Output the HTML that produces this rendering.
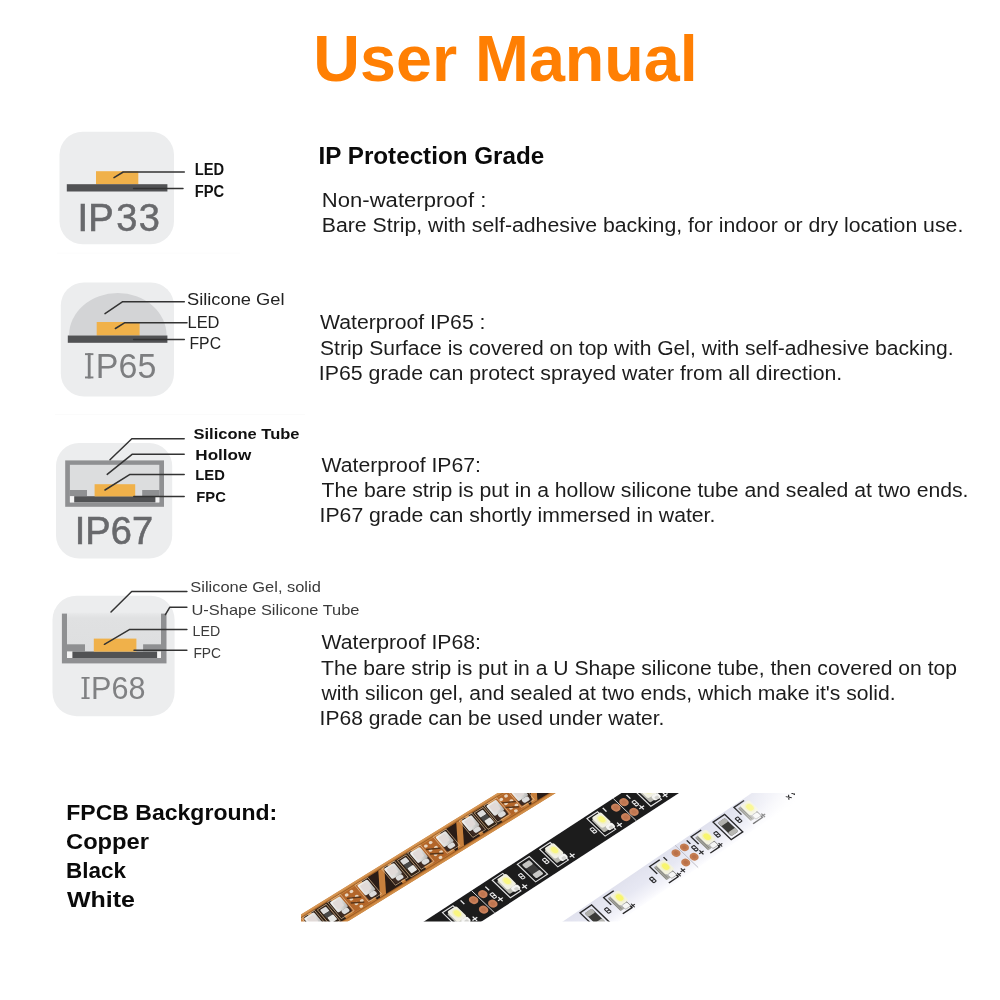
<!DOCTYPE html>
<html>
<head>
<meta charset="utf-8">
<title>User Manual</title>
<style>
html,body{margin:0;padding:0;background:#fff;}
body{width:1000px;height:1000px;overflow:hidden;font-family:"Liberation Sans",sans-serif;}
svg{display:block;position:absolute;left:0;top:0;will-change:transform;}
text{font-family:"Liberation Sans",sans-serif;}
.t{fill:#ff7f03;font-weight:bold;font-size:62px;}
.h{fill:#0a0a0a;font-weight:bold;font-size:23px;}
.b{fill:#1c1c1c;font-size:19.6px;}
.f{fill:#0a0a0a;font-weight:bold;font-size:22px;}
.lb{fill:#111;font-weight:bold;font-size:14.5px;}
.lr{fill:#222;font-size:16px;}
.ld{stroke:#333;stroke-width:1.5;fill:none;stroke-linejoin:round;stroke-linecap:round;}
</style>
</head>
<body>
<svg width="1000" height="1000" viewBox="0 0 1000 1000">

<!-- ===== Title ===== -->
<text class="t" x="313.3" y="81" style="font-size:65px" textLength="384.5" lengthAdjust="spacingAndGlyphs">User Manual</text>

<!-- ===== Right column text ===== -->
<text class="h" x="318.6" y="164" textLength="225.6" lengthAdjust="spacingAndGlyphs">IP Protection Grade</text>

<text class="b" x="321.8" y="207.4" textLength="164.5" lengthAdjust="spacingAndGlyphs">Non-waterproof :</text>
<text class="b" x="321.8" y="232.2" textLength="641.5" lengthAdjust="spacingAndGlyphs">Bare Strip, with self-adhesive backing, for indoor or dry location use.</text>

<text class="b" x="320" y="329.0" textLength="165.5" lengthAdjust="spacingAndGlyphs">Waterproof IP65 :</text>
<text class="b" x="320" y="354.7" textLength="633.5" lengthAdjust="spacingAndGlyphs">Strip Surface is covered on top with Gel, with self-adhesive backing.</text>
<text class="b" x="318.8" y="379.7" textLength="523.5" lengthAdjust="spacingAndGlyphs">IP65 grade can protect sprayed water from all direction.</text>

<text class="b" x="321.5" y="472.1" textLength="159.5" lengthAdjust="spacingAndGlyphs">Waterproof IP67:</text>
<text class="b" x="321.5" y="497.2" textLength="647" lengthAdjust="spacingAndGlyphs">The bare strip is put in a hollow silicone tube and sealed at two ends.</text>
<text class="b" x="319.6" y="522.4" textLength="395.8" lengthAdjust="spacingAndGlyphs">IP67 grade can shortly immersed in water.</text>

<text class="b" x="321.5" y="648.9" textLength="159.5" lengthAdjust="spacingAndGlyphs">Waterproof IP68:</text>
<text class="b" x="321" y="674.7" textLength="636" lengthAdjust="spacingAndGlyphs">The bare strip is put in a U Shape silicone tube, then covered on top</text>
<text class="b" x="321.5" y="699.7" textLength="574" lengthAdjust="spacingAndGlyphs">with silicon gel, and sealed at two ends, which make it's solid.</text>
<text class="b" x="319.6" y="724.7" textLength="344.8" lengthAdjust="spacingAndGlyphs">IP68 grade can be used under water.</text>

<!-- ===== Bottom-left text ===== -->
<text class="f" x="66.3" y="819.5" textLength="211" lengthAdjust="spacingAndGlyphs">FPCB Background:</text>
<text class="f" x="66" y="849" textLength="83" lengthAdjust="spacingAndGlyphs">Copper</text>
<text class="f" x="66" y="877.5" textLength="60" lengthAdjust="spacingAndGlyphs">Black</text>
<text class="f" x="67" y="906.6" textLength="68" lengthAdjust="spacingAndGlyphs">White</text>

<!-- faint scan artefact lines present in the reference -->
<rect x="57" y="252.6" width="183" height="1" fill="#fcfcfc"/>
<rect x="55" y="414" width="250" height="1" fill="#fbfbfb"/>

<!-- ===== Icon 1 : IP33 ===== -->
<g id="ip33">
<rect x="59.5" y="131.7" width="114.5" height="112.6" rx="23" ry="23" fill="#ecedee"/>
<rect x="96" y="171.2" width="42.3" height="13.2" fill="#f0b14a"/>
<rect x="66.8" y="184.2" width="100.6" height="7.3" fill="#515254"/>
<polyline class="ld" points="114,177.7 123.2,172 184.3,172"/>
<polyline class="ld" points="133.6,188.4 183,188.4"/>
<text class="lb" x="194.8" y="174.8" style="font-size:15.6px" textLength="29.4" lengthAdjust="spacingAndGlyphs">LED</text>
<text class="lb" x="194.8" y="197.4" style="font-size:15.6px" textLength="29.4" lengthAdjust="spacingAndGlyphs">FPC</text>
<text x="77.6" y="231.2" style="font-size:38px" fill="#68696c" stroke="#68696c" stroke-width="0.7">IP</text>
<text x="116.3" y="231.2" style="font-size:38px" fill="#68696c" stroke="#68696c" stroke-width="0.5" letter-spacing="1.4">33</text>
</g>

<!-- ===== Icon 2 : IP65 ===== -->
<g id="ip65">
<rect x="60.8" y="282.5" width="113.2" height="114.1" rx="23" ry="23" fill="#ecedee"/>
<path d="M69,335.5 A48.8,42.5 0 0 1 166.6,335.5 Z" fill="#d3d4d6"/>
<rect x="96.7" y="322" width="42.9" height="13.6" fill="#f0b14a"/>
<rect x="67.8" y="335.5" width="99.6" height="7.3" fill="#515254"/>
<polyline class="ld" points="105,313.7 122.7,301.7 184.3,301.7"/>
<polyline class="ld" points="115.4,328.5 124.5,322.8 187,322.8"/>
<polyline class="ld" points="133.6,339.4 184.3,339.4"/>
<text class="lr" x="187" y="304.6" style="font-size:17px" textLength="97.5" lengthAdjust="spacingAndGlyphs">Silicone Gel</text>
<text class="lr" x="187.5" y="327.7" style="font-size:17px" textLength="32" lengthAdjust="spacingAndGlyphs">LED</text>
<text class="lr" x="189.5" y="349.3" style="font-size:17px" textLength="31.5" lengthAdjust="spacingAndGlyphs">FPC</text>
<g fill="#7d7e80"><rect x="87.8" y="353.2" width="2.8" height="25.2"/><rect x="85" y="353.2" width="8.4" height="1.9"/><rect x="85" y="376.5" width="8.4" height="1.9"/>
<text x="95.8" y="378.4" style="font-size:35.3px" textLength="60.5" lengthAdjust="spacingAndGlyphs">P65</text></g>
</g>

<!-- ===== Icon 3 : IP67 ===== -->
<g id="ip67">
<rect x="56" y="443" width="116.2" height="115.4" rx="23" ry="23" fill="#ecedee"/>
<rect x="65.2" y="460.4" width="98.8" height="46.4" fill="#8f9092"/>
<rect x="69.9" y="464.8" width="89.4" height="37.6" fill="#dcddde"/>
<rect x="69.9" y="490" width="17.1" height="6.4" fill="#8f9092"/>
<rect x="142.2" y="490" width="17.1" height="6.4" fill="#8f9092"/>
<rect x="69.9" y="496.2" width="89.4" height="6.2" fill="#f4f4f4"/>
<rect x="74.2" y="496.2" width="81.2" height="6.2" fill="#515254"/>
<rect x="94.6" y="484.2" width="40.6" height="12.2" fill="#f0b14a"/>
<polyline class="ld" points="110,459.8 131.8,438.8 184.2,438.8"/>
<polyline class="ld" points="107.2,474.4 132.4,454.2 184.2,454.2"/>
<polyline class="ld" points="105,490 129.6,474.6 184.2,474.6"/>
<polyline class="ld" points="133.8,496.4 184.2,496.4"/>
<text class="lb" x="193.5" y="438.8" style="font-size:15px" textLength="106" lengthAdjust="spacingAndGlyphs">Silicone Tube</text>
<text class="lb" x="195.3" y="460" style="font-size:15px" textLength="56" lengthAdjust="spacingAndGlyphs">Hollow</text>
<text class="lb" x="195.3" y="479.6" style="font-size:15px" textLength="29.5" lengthAdjust="spacingAndGlyphs">LED</text>
<text class="lb" x="196.3" y="502.4" style="font-size:15px" textLength="29.5" lengthAdjust="spacingAndGlyphs">FPC</text>
<text x="74.7" y="544.4" style="font-size:38px" fill="#68696c" stroke="#68696c" stroke-width="0.6" textLength="78.4" lengthAdjust="spacing">IP67</text>
</g>

<!-- ===== Icon 4 : IP68 ===== -->
<g id="ip68">
<rect x="52.5" y="595.7" width="122.1" height="120.5" rx="24" ry="24" fill="#ecedee"/>
<defs><linearGradient id="gel" x1="0" y1="0" x2="0" y2="1"><stop offset="0" stop-color="#e9eaeb"/><stop offset="0.12" stop-color="#e0e1e2"/><stop offset="1" stop-color="#dddedf"/></linearGradient></defs>
<rect x="61.9" y="613.6" width="104.6" height="49.8" fill="#8f9092"/>
<rect x="67" y="612.6" width="94" height="45.4" fill="url(#gel)"/>
<rect x="67" y="644.3" width="18" height="7.4" fill="#8f9092"/>
<rect x="143.1" y="644.3" width="17.9" height="7.4" fill="#8f9092"/>
<rect x="67" y="651.5" width="94" height="6.5" fill="#f4f4f4"/>
<rect x="72.4" y="651.5" width="84.7" height="6.5" fill="#515254"/>
<rect x="93.8" y="638.6" width="42.6" height="13" fill="#f0b14a"/>
<polyline class="ld" points="111,612 131.7,591.5 186.9,591.5"/>
<polyline class="ld" points="165.4,614.6 169.7,607.3 186.9,607.3"/>
<polyline class="ld" points="104.4,644.3 129.8,629.4 186.9,629.4"/>
<polyline class="ld" points="134,650.2 186.9,650.2"/>
<text class="lr" x="190.3" y="592.4" style="font-size:15px;fill:#3a3a3a" textLength="130.5" lengthAdjust="spacingAndGlyphs">Silicone Gel, solid</text>
<text class="lr" x="191.5" y="614.6" style="font-size:15px;fill:#3a3a3a" textLength="168" lengthAdjust="spacingAndGlyphs">U-Shape Silicone Tube</text>
<text class="lr" x="192.6" y="636" style="font-size:15px;fill:#3a3a3a" textLength="27.6" lengthAdjust="spacingAndGlyphs">LED</text>
<text class="lr" x="193.4" y="657.5" style="font-size:15px;fill:#3a3a3a" textLength="27.6" lengthAdjust="spacingAndGlyphs">FPC</text>
<g fill="#808183"><rect x="84.1" y="677" width="2.6" height="22"/><rect x="81.5" y="677" width="8.1" height="1.7"/><rect x="81.5" y="697.3" width="8.1" height="1.7"/>
<text x="91.1" y="699" style="font-size:30.8px" textLength="54.3" lengthAdjust="spacingAndGlyphs">P68</text></g>
</g>

<!-- ===== LED strips ===== -->
<g id="strips">
<defs>
<clipPath id="photo"><rect x="301" y="793" width="494" height="128.6"/></clipPath>
<filter id="soft" x="-5%" y="-5%" width="110%" height="110%"><feGaussianBlur stdDeviation="0.6"/></filter>
<linearGradient id="cu" x1="0" y1="0" x2="0" y2="1"><stop offset="0" stop-color="#cf8a42"/><stop offset="0.5" stop-color="#be7430"/><stop offset="1" stop-color="#c98038"/></linearGradient>
<linearGradient id="wh" x1="0" y1="0" x2="0" y2="1"><stop offset="0" stop-color="#e1e2ee"/><stop offset="0.45" stop-color="#e7e8f3"/><stop offset="0.8" stop-color="#f4f4fa"/><stop offset="1" stop-color="#fdfdff"/></linearGradient>
<linearGradient id="ledw" x1="0" y1="0" x2="1" y2="1"><stop offset="0" stop-color="#f4f4f2"/><stop offset="0.6" stop-color="#dededc"/><stop offset="1" stop-color="#b1b1af"/></linearGradient>
<radialGradient id="ledy" cx="0.5" cy="0.45" r="0.6"><stop offset="0" stop-color="#fbf88e"/><stop offset="0.55" stop-color="#f5f3b0"/><stop offset="1" stop-color="#efeee0"/></radialGradient>
<linearGradient id="fade" x1="0" y1="0" x2="1" y2="0.35"><stop offset="0" stop-color="#fff" stop-opacity="0"/><stop offset="0.75" stop-color="#fff" stop-opacity="0.9"/><stop offset="1" stop-color="#fff" stop-opacity="1"/></linearGradient>
</defs>
<g clip-path="url(#photo)"><g filter="url(#soft)">
<g transform="matrix(0.8508 -0.5255 0.6428 0.7660 301 914.5)">
<rect x="-40" y="0" width="350" height="30.8" fill="url(#cu)"/>
<rect x="-40" y="0" width="350" height="1.5" fill="#d59656"/>
<rect x="-40" y="29.1" width="350" height="1.7" fill="#d08e4a"/>
<rect x="-40" y="2.4" width="350" height="1" fill="#8a4f1e" opacity="0.7"/>
<rect x="-40" y="27.2" width="350" height="1" fill="#8a4f1e" opacity="0.7"/>
<rect x="-25.7" y="3.4" width="30.7" height="24.0" fill="#2a1b13"/>
<path d="M-21.9,27.4 L-5.8,3.4 L1.2,3.4 L-14.8,27.4 Z" fill="#c8803c"/>
<rect x="9.0" y="3.4" width="23.4" height="24.0" fill="#2f2118"/>
<rect x="15.7" y="4.6" width="10.5" height="21.5" fill="none" stroke="#d8b48a" stroke-width="0.7"/>
<rect x="17.5" y="6.2" width="7" height="6" rx="1" fill="#dcdcdc"/>
<rect x="17.5" y="12" width="7" height="5" fill="#4a4a48"/>
<rect x="18.1" y="16.8" width="7" height="6.6" rx="1" fill="#e6e6e4"/>
<rect x="41.4" y="4.2" width="21.2" height="22.4" fill="#b3662a"/>
<ellipse cx="48.0" cy="7.5" rx="1.9" ry="1.6" fill="#e8d6c0"/>
<ellipse cx="54.0" cy="7" rx="1.9" ry="1.6" fill="#e8d6c0"/>
<ellipse cx="49.0" cy="13.5" rx="1.9" ry="1.6" fill="#e8d6c0"/>
<ellipse cx="55.0" cy="14" rx="1.9" ry="1.6" fill="#e8d6c0"/>
<ellipse cx="50.0" cy="20" rx="1.9" ry="1.6" fill="#e8d6c0"/>
<ellipse cx="56.0" cy="20.5" rx="1.9" ry="1.6" fill="#e8d6c0"/>
<ellipse cx="52.0" cy="25" rx="1.9" ry="1.6" fill="#e8d6c0"/>
<path d="M46.0,10.5 L58.0,17 M46.0,16.5 L57.0,23" stroke="#5a3418" stroke-width="1.5" fill="none"/>
<rect x="68.6" y="3.4" width="30.4" height="24.0" fill="#2a1b13"/>
<path d="M72.3,27.4 L88.3,3.4 L95.3,3.4 L79.3,27.4 Z" fill="#c8803c"/>
<rect x="103.0" y="3.4" width="23.4" height="24.0" fill="#2f2118"/>
<rect x="109.7" y="4.6" width="10.5" height="21.5" fill="none" stroke="#d8b48a" stroke-width="0.7"/>
<rect x="111.5" y="6.2" width="7" height="6" rx="1" fill="#dcdcdc"/>
<rect x="111.5" y="12" width="7" height="5" fill="#4a4a48"/>
<rect x="112.1" y="16.8" width="7" height="6.6" rx="1" fill="#e6e6e4"/>
<rect x="135.4" y="4.2" width="19.3" height="22.4" fill="#b3662a"/>
<ellipse cx="141.1" cy="7.5" rx="1.9" ry="1.6" fill="#e8d6c0"/>
<ellipse cx="147.1" cy="7" rx="1.9" ry="1.6" fill="#e8d6c0"/>
<ellipse cx="142.1" cy="13.5" rx="1.9" ry="1.6" fill="#e8d6c0"/>
<ellipse cx="148.1" cy="14" rx="1.9" ry="1.6" fill="#e8d6c0"/>
<ellipse cx="143.1" cy="20" rx="1.9" ry="1.6" fill="#e8d6c0"/>
<ellipse cx="149.1" cy="20.5" rx="1.9" ry="1.6" fill="#e8d6c0"/>
<ellipse cx="145.1" cy="25" rx="1.9" ry="1.6" fill="#e8d6c0"/>
<path d="M139.1,10.5 L151.1,17 M139.1,16.5 L150.1,23" stroke="#5a3418" stroke-width="1.5" fill="none"/>
<rect x="160.7" y="3.4" width="29.3" height="24.0" fill="#2a1b13"/>
<path d="M163.9,27.4 L179.9,3.4 L186.9,3.4 L170.9,27.4 Z" fill="#c8803c"/>
<rect x="194.0" y="3.4" width="22.2" height="24.0" fill="#2f2118"/>
<rect x="200.1" y="4.6" width="10.5" height="21.5" fill="none" stroke="#d8b48a" stroke-width="0.7"/>
<rect x="201.9" y="6.2" width="7" height="6" rx="1" fill="#dcdcdc"/>
<rect x="201.9" y="12" width="7" height="5" fill="#4a4a48"/>
<rect x="202.5" y="16.8" width="7" height="6.6" rx="1" fill="#e6e6e4"/>
<rect x="225.2" y="4.2" width="17.0" height="22.4" fill="#b3662a"/>
<ellipse cx="229.7" cy="7.5" rx="1.9" ry="1.6" fill="#e8d6c0"/>
<ellipse cx="235.7" cy="7" rx="1.9" ry="1.6" fill="#e8d6c0"/>
<ellipse cx="230.7" cy="13.5" rx="1.9" ry="1.6" fill="#e8d6c0"/>
<ellipse cx="236.7" cy="14" rx="1.9" ry="1.6" fill="#e8d6c0"/>
<ellipse cx="231.7" cy="20" rx="1.9" ry="1.6" fill="#e8d6c0"/>
<ellipse cx="237.7" cy="20.5" rx="1.9" ry="1.6" fill="#e8d6c0"/>
<ellipse cx="233.7" cy="25" rx="1.9" ry="1.6" fill="#e8d6c0"/>
<path d="M227.7,10.5 L239.7,17 M227.7,16.5 L238.7,23" stroke="#5a3418" stroke-width="1.5" fill="none"/>
<rect x="248.2" y="3.4" width="27.1" height="24.0" fill="#2a1b13"/>
<path d="M250.2,27.4 L266.2,3.4 L273.2,3.4 L257.2,27.4 Z" fill="#c8803c"/>
<rect x="279.3" y="3.4" width="20.5" height="24.0" fill="#2f2118"/>
<rect x="284.6" y="4.6" width="10.5" height="21.5" fill="none" stroke="#d8b48a" stroke-width="0.7"/>
<rect x="286.4" y="6.2" width="7" height="6" rx="1" fill="#dcdcdc"/>
<rect x="286.4" y="12" width="7" height="5" fill="#4a4a48"/>
<rect x="286.9" y="16.8" width="7" height="6.6" rx="1" fill="#e6e6e4"/>
<rect x="-33.6" y="3.6" width="15" height="21.4" fill="none" stroke="#e6c8a4" stroke-width="0.6"/>
<rect x="-32.4" y="14.4" width="12.6" height="9.8" rx="1.6" fill="#3d2c22"/>
<rect x="-32.2" y="4.8" width="12" height="13.4" rx="1.4" fill="url(#ledw)"/>
<rect x="-30.4" y="6.6" width="7.8" height="8.6" rx="1.2" fill="#e1dad8"/>
<rect x="-29.0" y="18.0" width="7.4" height="5" rx="1.8" fill="#dcdcdc"/>
<rect x="-1.9" y="3.6" width="15" height="21.4" fill="none" stroke="#e6c8a4" stroke-width="0.6"/>
<rect x="-0.7" y="14.4" width="12.6" height="9.8" rx="1.6" fill="#3d2c22"/>
<rect x="-0.5" y="4.8" width="12" height="13.4" rx="1.4" fill="url(#ledw)"/>
<rect x="1.3" y="6.6" width="7.8" height="8.6" rx="1.2" fill="#e1dad8"/>
<rect x="2.7" y="18.0" width="7.4" height="5" rx="1.8" fill="#dcdcdc"/>
<rect x="28.5" y="3.6" width="15" height="21.4" fill="none" stroke="#e6c8a4" stroke-width="0.6"/>
<rect x="29.7" y="14.4" width="12.6" height="9.8" rx="1.6" fill="#3d2c22"/>
<rect x="29.9" y="4.8" width="12" height="13.4" rx="1.4" fill="url(#ledw)"/>
<rect x="31.7" y="6.6" width="7.8" height="8.6" rx="1.2" fill="#e1dad8"/>
<rect x="33.1" y="18.0" width="7.4" height="5" rx="1.8" fill="#dcdcdc"/>
<rect x="60.7" y="3.6" width="15" height="21.4" fill="none" stroke="#e6c8a4" stroke-width="0.6"/>
<rect x="61.9" y="14.4" width="12.6" height="9.8" rx="1.6" fill="#3d2c22"/>
<rect x="62.1" y="4.8" width="12" height="13.4" rx="1.4" fill="url(#ledw)"/>
<rect x="63.9" y="6.6" width="7.8" height="8.6" rx="1.2" fill="#e1dad8"/>
<rect x="65.3" y="18.0" width="7.4" height="5" rx="1.8" fill="#dcdcdc"/>
<rect x="92.1" y="3.6" width="15" height="21.4" fill="none" stroke="#e6c8a4" stroke-width="0.6"/>
<rect x="93.3" y="14.4" width="12.6" height="9.8" rx="1.6" fill="#3d2c22"/>
<rect x="93.5" y="4.8" width="12" height="13.4" rx="1.4" fill="url(#ledw)"/>
<rect x="95.3" y="6.6" width="7.8" height="8.6" rx="1.2" fill="#e1dad8"/>
<rect x="96.7" y="18.0" width="7.4" height="5" rx="1.8" fill="#dcdcdc"/>
<rect x="122.5" y="3.6" width="15" height="21.4" fill="none" stroke="#e6c8a4" stroke-width="0.6"/>
<rect x="123.7" y="14.4" width="12.6" height="9.8" rx="1.6" fill="#3d2c22"/>
<rect x="123.9" y="4.8" width="12" height="13.4" rx="1.4" fill="url(#ledw)"/>
<rect x="125.7" y="6.6" width="7.8" height="8.6" rx="1.2" fill="#e1dad8"/>
<rect x="127.1" y="18.0" width="7.4" height="5" rx="1.8" fill="#dcdcdc"/>
<rect x="152.8" y="3.6" width="15" height="21.4" fill="none" stroke="#e6c8a4" stroke-width="0.6"/>
<rect x="154.0" y="14.4" width="12.6" height="9.8" rx="1.6" fill="#3d2c22"/>
<rect x="154.2" y="4.8" width="12" height="13.4" rx="1.4" fill="url(#ledw)"/>
<rect x="156.0" y="6.6" width="7.8" height="8.6" rx="1.2" fill="#e1dad8"/>
<rect x="157.4" y="18.0" width="7.4" height="5" rx="1.8" fill="#dcdcdc"/>
<rect x="183.1" y="3.6" width="15" height="21.4" fill="none" stroke="#e6c8a4" stroke-width="0.6"/>
<rect x="184.3" y="14.4" width="12.6" height="9.8" rx="1.6" fill="#3d2c22"/>
<rect x="184.5" y="4.8" width="12" height="13.4" rx="1.4" fill="url(#ledw)"/>
<rect x="186.3" y="6.6" width="7.8" height="8.6" rx="1.2" fill="#e1dad8"/>
<rect x="187.7" y="18.0" width="7.4" height="5" rx="1.8" fill="#dcdcdc"/>
<rect x="212.3" y="3.6" width="15" height="21.4" fill="none" stroke="#e6c8a4" stroke-width="0.6"/>
<rect x="213.5" y="14.4" width="12.6" height="9.8" rx="1.6" fill="#3d2c22"/>
<rect x="213.7" y="4.8" width="12" height="13.4" rx="1.4" fill="url(#ledw)"/>
<rect x="215.5" y="6.6" width="7.8" height="8.6" rx="1.2" fill="#e1dad8"/>
<rect x="216.9" y="18.0" width="7.4" height="5" rx="1.8" fill="#dcdcdc"/>
<rect x="240.3" y="3.6" width="15" height="21.4" fill="none" stroke="#e6c8a4" stroke-width="0.6"/>
<rect x="241.5" y="14.4" width="12.6" height="9.8" rx="1.6" fill="#3d2c22"/>
<rect x="241.7" y="4.8" width="12" height="13.4" rx="1.4" fill="url(#ledw)"/>
<rect x="243.5" y="6.6" width="7.8" height="8.6" rx="1.2" fill="#e1dad8"/>
<rect x="244.9" y="18.0" width="7.4" height="5" rx="1.8" fill="#dcdcdc"/>
<rect x="268.4" y="3.6" width="15" height="21.4" fill="none" stroke="#e6c8a4" stroke-width="0.6"/>
<rect x="269.6" y="14.4" width="12.6" height="9.8" rx="1.6" fill="#3d2c22"/>
<rect x="269.8" y="4.8" width="12" height="13.4" rx="1.4" fill="url(#ledw)"/>
<rect x="271.6" y="6.6" width="7.8" height="8.6" rx="1.2" fill="#e1dad8"/>
<rect x="273.0" y="18.0" width="7.4" height="5" rx="1.8" fill="#dcdcdc"/>
<rect x="295.9" y="3.6" width="15" height="21.4" fill="none" stroke="#e6c8a4" stroke-width="0.6"/>
<rect x="297.1" y="14.4" width="12.6" height="9.8" rx="1.6" fill="#3d2c22"/>
<rect x="297.3" y="4.8" width="12" height="13.4" rx="1.4" fill="url(#ledw)"/>
<rect x="299.1" y="6.6" width="7.8" height="8.6" rx="1.2" fill="#e1dad8"/>
<rect x="300.5" y="18.0" width="7.4" height="5" rx="1.8" fill="#dcdcdc"/>
</g>
<g transform="matrix(0.8382 -0.5454 0.7193 0.6947 424 921.5)">
<rect x="-40" y="0" width="370" height="32.2" fill="#1b1b1d"/>
<rect x="-37.8" y="2.7" width="12.6" height="25.2" fill="none" stroke="#e6e6e6" stroke-width="1.15"/>
<rect x="-35.7" y="6.7" width="9.6" height="17.6" rx="1.2" fill="#b9b9b1"/>
<rect x="-34.1" y="4.5" width="11" height="15.2" rx="2" fill="#f1f0e2"/>
<ellipse cx="-27.9" cy="11.9" rx="4.2" ry="5.6" fill="url(#ledy)"/>
<ellipse cx="-27.7" cy="11.7" rx="2.6" ry="3.6" fill="#f9f680"/>
<rect x="-30.9" y="19.5" width="8" height="6.2" rx="2.2" fill="#f5f5f3"/>
<rect x="-28.9" y="21.9" width="4" height="3.4" rx="1.2" fill="#d3d3cf"/>
<path d="M-22.2,26.2 h5.8 M-19.3,23.1 v6.2" stroke="#efefef" stroke-width="1.25"/>
<rect x="19.7" y="2.7" width="12.6" height="25.2" fill="none" stroke="#e6e6e6" stroke-width="1.15"/>
<rect x="21.8" y="6.7" width="9.6" height="17.6" rx="1.2" fill="#b9b9b1"/>
<rect x="23.4" y="4.5" width="11" height="15.2" rx="2" fill="#f1f0e2"/>
<ellipse cx="29.6" cy="11.9" rx="4.2" ry="5.6" fill="url(#ledy)"/>
<ellipse cx="29.8" cy="11.7" rx="2.6" ry="3.6" fill="#f9f680"/>
<rect x="26.6" y="19.5" width="8" height="6.2" rx="2.2" fill="#f5f5f3"/>
<rect x="28.6" y="21.9" width="4" height="3.4" rx="1.2" fill="#d3d3cf"/>
<path d="M35.3,26.2 h5.8 M38.2,23.1 v6.2" stroke="#efefef" stroke-width="1.25"/>
<rect x="79.1" y="2.7" width="12.6" height="25.2" fill="none" stroke="#e6e6e6" stroke-width="1.15"/>
<rect x="81.2" y="6.7" width="9.6" height="17.6" rx="1.2" fill="#b9b9b1"/>
<rect x="82.8" y="4.5" width="11" height="15.2" rx="2" fill="#f1f0e2"/>
<ellipse cx="89.0" cy="11.9" rx="4.2" ry="5.6" fill="url(#ledy)"/>
<ellipse cx="89.2" cy="11.7" rx="2.6" ry="3.6" fill="#f9f680"/>
<rect x="86.0" y="19.5" width="8" height="6.2" rx="2.2" fill="#f5f5f3"/>
<rect x="88.0" y="21.9" width="4" height="3.4" rx="1.2" fill="#d3d3cf"/>
<path d="M94.7,26.2 h5.8 M97.6,23.1 v6.2" stroke="#efefef" stroke-width="1.25"/>
<rect x="135.7" y="2.7" width="12.6" height="25.2" fill="none" stroke="#e6e6e6" stroke-width="1.15"/>
<rect x="137.8" y="6.7" width="9.6" height="17.6" rx="1.2" fill="#b9b9b1"/>
<rect x="139.4" y="4.5" width="11" height="15.2" rx="2" fill="#f1f0e2"/>
<ellipse cx="145.6" cy="11.9" rx="4.2" ry="5.6" fill="url(#ledy)"/>
<ellipse cx="145.8" cy="11.7" rx="2.6" ry="3.6" fill="#f9f680"/>
<rect x="142.6" y="19.5" width="8" height="6.2" rx="2.2" fill="#f5f5f3"/>
<rect x="144.6" y="21.9" width="4" height="3.4" rx="1.2" fill="#d3d3cf"/>
<path d="M151.3,26.2 h5.8 M154.2,23.1 v6.2" stroke="#efefef" stroke-width="1.25"/>
<rect x="192.1" y="2.7" width="12.6" height="25.2" fill="none" stroke="#e6e6e6" stroke-width="1.15"/>
<rect x="194.2" y="6.7" width="9.6" height="17.6" rx="1.2" fill="#b9b9b1"/>
<rect x="195.8" y="4.5" width="11" height="15.2" rx="2" fill="#f1f0e2"/>
<ellipse cx="202.0" cy="11.9" rx="4.2" ry="5.6" fill="url(#ledy)"/>
<ellipse cx="202.2" cy="11.7" rx="2.6" ry="3.6" fill="#f9f680"/>
<rect x="199.0" y="19.5" width="8" height="6.2" rx="2.2" fill="#f5f5f3"/>
<rect x="201.0" y="21.9" width="4" height="3.4" rx="1.2" fill="#d3d3cf"/>
<path d="M207.7,26.2 h5.8 M210.6,23.1 v6.2" stroke="#efefef" stroke-width="1.25"/>
<rect x="246.7" y="2.7" width="12.6" height="25.2" fill="none" stroke="#e6e6e6" stroke-width="1.15"/>
<rect x="248.8" y="6.7" width="9.6" height="17.6" rx="1.2" fill="#b9b9b1"/>
<rect x="250.4" y="4.5" width="11" height="15.2" rx="2" fill="#f1f0e2"/>
<ellipse cx="256.6" cy="11.9" rx="4.2" ry="5.6" fill="url(#ledy)"/>
<ellipse cx="256.8" cy="11.7" rx="2.6" ry="3.6" fill="#f9f680"/>
<rect x="253.6" y="19.5" width="8" height="6.2" rx="2.2" fill="#f5f5f3"/>
<rect x="255.6" y="21.9" width="4" height="3.4" rx="1.2" fill="#d3d3cf"/>
<path d="M262.3,26.2 h5.8 M265.2,23.1 v6.2" stroke="#efefef" stroke-width="1.25"/>
<rect x="299.7" y="2.7" width="12.6" height="25.2" fill="none" stroke="#e6e6e6" stroke-width="1.15"/>
<rect x="301.8" y="6.7" width="9.6" height="17.6" rx="1.2" fill="#b9b9b1"/>
<rect x="303.4" y="4.5" width="11" height="15.2" rx="2" fill="#f1f0e2"/>
<ellipse cx="309.6" cy="11.9" rx="4.2" ry="5.6" fill="url(#ledy)"/>
<ellipse cx="309.8" cy="11.7" rx="2.6" ry="3.6" fill="#f9f680"/>
<rect x="306.6" y="19.5" width="8" height="6.2" rx="2.2" fill="#f5f5f3"/>
<rect x="308.6" y="21.9" width="4" height="3.4" rx="1.2" fill="#d3d3cf"/>
<path d="M315.3,26.2 h5.8 M318.2,23.1 v6.2" stroke="#efefef" stroke-width="1.25"/>
<line x1="56.7" y1="0" x2="56.7" y2="32.2" stroke="#dcdcdc" stroke-width="0.9"/>
<ellipse cx="51.2" cy="9.3" rx="4.2" ry="4.5" fill="#c8805a"/>
<ellipse cx="51.2" cy="9.3" rx="2.2" ry="2.4" fill="#bf7450"/>
<ellipse cx="62.2" cy="9.3" rx="4.2" ry="4.5" fill="#c8805a"/>
<ellipse cx="62.2" cy="9.3" rx="2.2" ry="2.4" fill="#bf7450"/>
<ellipse cx="51.2" cy="23.2" rx="4.2" ry="4.5" fill="#c8805a"/>
<ellipse cx="51.2" cy="23.2" rx="2.2" ry="2.4" fill="#bf7450"/>
<ellipse cx="62.2" cy="23.2" rx="4.2" ry="4.5" fill="#c8805a"/>
<ellipse cx="62.2" cy="23.2" rx="2.2" ry="2.4" fill="#bf7450"/>
<path d="M69.4,4.4 v5.4" stroke="#ececec" stroke-width="1.3"/>
<path d="M41.6,2.4 v5.2" stroke="#ececec" stroke-width="1.3"/>
<path d="M71.0,20.6 v6 M68.1,23.6 h5.8" stroke="#efefef" stroke-width="1.25"/>
<line x1="225.7" y1="0" x2="225.7" y2="32.2" stroke="#dcdcdc" stroke-width="0.9"/>
<ellipse cx="220.8" cy="9.3" rx="4.2" ry="4.5" fill="#c8805a"/>
<ellipse cx="220.8" cy="9.3" rx="2.2" ry="2.4" fill="#bf7450"/>
<ellipse cx="230.6" cy="9.3" rx="4.2" ry="4.5" fill="#c8805a"/>
<ellipse cx="230.6" cy="9.3" rx="2.2" ry="2.4" fill="#bf7450"/>
<ellipse cx="220.8" cy="23.2" rx="4.2" ry="4.5" fill="#c8805a"/>
<ellipse cx="220.8" cy="23.2" rx="2.2" ry="2.4" fill="#bf7450"/>
<ellipse cx="230.6" cy="23.2" rx="4.2" ry="4.5" fill="#c8805a"/>
<ellipse cx="230.6" cy="23.2" rx="2.2" ry="2.4" fill="#bf7450"/>
<path d="M237.8,4.4 v5.4" stroke="#ececec" stroke-width="1.3"/>
<path d="M211.2,2.4 v5.2" stroke="#ececec" stroke-width="1.3"/>
<path d="M239.4,20.6 v6 M236.5,23.6 h5.8" stroke="#efefef" stroke-width="1.25"/>
<line x1="-112.3" y1="0" x2="-112.3" y2="32.2" stroke="#dcdcdc" stroke-width="0.9"/>
<ellipse cx="-117.8" cy="9.3" rx="4.2" ry="4.5" fill="#c8805a"/>
<ellipse cx="-117.8" cy="9.3" rx="2.2" ry="2.4" fill="#bf7450"/>
<ellipse cx="-106.8" cy="9.3" rx="4.2" ry="4.5" fill="#c8805a"/>
<ellipse cx="-106.8" cy="9.3" rx="2.2" ry="2.4" fill="#bf7450"/>
<ellipse cx="-117.8" cy="23.2" rx="4.2" ry="4.5" fill="#c8805a"/>
<ellipse cx="-117.8" cy="23.2" rx="2.2" ry="2.4" fill="#bf7450"/>
<ellipse cx="-106.8" cy="23.2" rx="4.2" ry="4.5" fill="#c8805a"/>
<ellipse cx="-106.8" cy="23.2" rx="2.2" ry="2.4" fill="#bf7450"/>
<path d="M-99.6,4.4 v5.4" stroke="#ececec" stroke-width="1.3"/>
<path d="M-127.3,2.4 v5.2" stroke="#ececec" stroke-width="1.3"/>
<path d="M-98.0,20.6 v6 M-100.9,23.6 h5.8" stroke="#efefef" stroke-width="1.25"/>
<rect x="108.8" y="3.0" width="14.2" height="25.4" fill="none" stroke="#e2e2e2" stroke-width="1.15"/>
<rect x="111.6" y="6.1" width="8.8" height="19.4" rx="1.4" fill="#3b3b3b"/>
<rect x="111.6" y="5.9" width="8.8" height="5.8" rx="1.4" fill="#c4c4c2"/>
<rect x="111.8" y="20.1" width="8.8" height="5.8" rx="1.4" fill="#c9c9c7"/>
<rect x="273.8" y="3.0" width="14.2" height="25.4" fill="none" stroke="#e2e2e2" stroke-width="1.15"/>
<rect x="276.6" y="6.1" width="8.8" height="19.4" rx="1.4" fill="#3b3b3b"/>
<rect x="276.6" y="5.9" width="8.8" height="5.8" rx="1.4" fill="#c4c4c2"/>
<rect x="276.8" y="20.1" width="8.8" height="5.8" rx="1.4" fill="#c9c9c7"/>
<rect x="-60.2" y="3.0" width="14.2" height="25.4" fill="none" stroke="#e2e2e2" stroke-width="1.15"/>
<rect x="-57.4" y="6.1" width="8.8" height="19.4" rx="1.4" fill="#3b3b3b"/>
<rect x="-57.4" y="5.9" width="8.8" height="5.8" rx="1.4" fill="#c4c4c2"/>
<rect x="-57.2" y="20.1" width="8.8" height="5.8" rx="1.4" fill="#c9c9c7"/>
<path d="M66.9,13.5 v6 M70.1,13.5 v6 M66.9,13.5 h3.2 M66.9,16.7 h3.2 M66.9,19.5 h3.2" stroke="#ebebeb" stroke-width="1.05" fill="none"/>
<path d="M101.4,12.8 v6 M104.6,12.8 v6 M101.4,12.8 h3.2 M101.4,16.0 h3.2 M101.4,18.8 h3.2" stroke="#ebebeb" stroke-width="1.05" fill="none"/>
<path d="M129.9,13.0 v6 M133.1,13.0 v6 M129.9,13.0 h3.2 M129.9,16.2 h3.2 M129.9,19.0 h3.2" stroke="#ebebeb" stroke-width="1.05" fill="none"/>
<path d="M186.4,13.5 v6 M189.6,13.5 v6 M186.4,13.5 h3.2 M186.4,16.7 h3.2 M186.4,19.5 h3.2" stroke="#ebebeb" stroke-width="1.05" fill="none"/>
<path d="M236.4,13.5 v6 M239.6,13.5 v6 M236.4,13.5 h3.2 M236.4,16.7 h3.2 M236.4,19.5 h3.2" stroke="#ebebeb" stroke-width="1.05" fill="none"/>
<path d="M12.4,13.5 v6 M15.6,13.5 v6 M12.4,13.5 h3.2 M12.4,16.7 h3.2 M12.4,19.5 h3.2" stroke="#ebebeb" stroke-width="1.05" fill="none"/>
</g>
<g transform="matrix(0.8271 -0.5621 0.7193 0.6947 562.8 921.5)">
<rect x="-40" y="0" width="350" height="32.2" fill="url(#wh)"/>
<path d="M58.8,3.2 h-12.2 v10.5 M46.6,28.0 m1.6,0 h11.2 v-11.5 h-3.4" fill="none" stroke="#29292b" stroke-width="1.4"/>
<rect x="48.6" y="6.2" width="4.6" height="18.2" rx="0.8" fill="#a9a9a3"/>
<path d="M49.3,7.6 v15.5 M51.0,7.6 v15.5" stroke="#77776f" stroke-width="0.7"/>
<rect x="52.0" y="5.2" width="10.6" height="14.6" rx="2.4" fill="#f3f2de"/>
<ellipse cx="57.8" cy="12.4" rx="4.4" ry="5.6" fill="url(#ledy)"/>
<ellipse cx="58.0" cy="12.4" rx="2.9" ry="3.9" fill="#f8f56e"/>
<rect x="53.4" y="20.2" width="6.4" height="5.6" rx="1.2" fill="#f6f6f6" stroke="#9d9d9b" stroke-width="0.7"/>
<path d="M61.5,24.2 v5 M59.1,26.7 h4.8" stroke="#29292b" stroke-width="1.15"/>
<path d="M114.2,3.5 h-12.2 v10.5 M102.0,28.3 m1.6,0 h11.2 v-11.5 h-3.4" fill="none" stroke="#29292b" stroke-width="1.4"/>
<rect x="104.0" y="6.5" width="4.6" height="18.2" rx="0.8" fill="#a9a9a3"/>
<path d="M104.7,7.9 v15.5 M106.4,7.9 v15.5" stroke="#77776f" stroke-width="0.7"/>
<rect x="107.4" y="5.5" width="10.6" height="14.6" rx="2.4" fill="#f3f2de"/>
<ellipse cx="113.2" cy="12.7" rx="4.4" ry="5.6" fill="url(#ledy)"/>
<ellipse cx="113.4" cy="12.7" rx="2.9" ry="3.9" fill="#f8f56e"/>
<rect x="108.8" y="20.5" width="6.4" height="5.6" rx="1.2" fill="#f6f6f6" stroke="#9d9d9b" stroke-width="0.7"/>
<path d="M116.9,24.5 v5 M114.5,27.0 h4.8" stroke="#29292b" stroke-width="1.15"/>
<path d="M165.5,2.1 h-12.2 v10.5 M153.3,26.9 m1.6,0 h11.2 v-11.5 h-3.4" fill="none" stroke="#29292b" stroke-width="1.4"/>
<rect x="155.3" y="5.1" width="4.6" height="18.2" rx="0.8" fill="#a9a9a3"/>
<path d="M156.0,6.5 v15.5 M157.7,6.5 v15.5" stroke="#77776f" stroke-width="0.7"/>
<rect x="158.7" y="4.1" width="10.6" height="14.6" rx="2.4" fill="#f3f2de"/>
<ellipse cx="164.5" cy="11.3" rx="4.4" ry="5.6" fill="url(#ledy)"/>
<ellipse cx="164.7" cy="11.3" rx="2.9" ry="3.9" fill="#f8f56e"/>
<rect x="160.1" y="19.1" width="6.4" height="5.6" rx="1.2" fill="#f6f6f6" stroke="#9d9d9b" stroke-width="0.7"/>
<path d="M168.2,23.1 v5 M165.8,25.6 h4.8" stroke="#29292b" stroke-width="1.15"/>
<path d="M217.5,1.9 h-12.2 v10.5 M205.3,26.7 m1.6,0 h11.2 v-11.5 h-3.4" fill="none" stroke="#29292b" stroke-width="1.4"/>
<rect x="207.3" y="4.9" width="4.6" height="18.2" rx="0.8" fill="#a9a9a3"/>
<path d="M208.0,6.3 v15.5 M209.7,6.3 v15.5" stroke="#77776f" stroke-width="0.7"/>
<rect x="210.7" y="3.9" width="10.6" height="14.6" rx="2.4" fill="#f3f2de"/>
<ellipse cx="216.5" cy="11.1" rx="4.4" ry="5.6" fill="url(#ledy)"/>
<ellipse cx="216.7" cy="11.1" rx="2.9" ry="3.9" fill="#f8f56e"/>
<rect x="212.1" y="18.9" width="6.4" height="5.6" rx="1.2" fill="#f6f6f6" stroke="#9d9d9b" stroke-width="0.7"/>
<path d="M220.2,22.9 v5 M217.8,25.4 h4.8" stroke="#29292b" stroke-width="1.15"/>
<rect x="18.6" y="2.6" width="14" height="25.2" fill="none" stroke="#29292b" stroke-width="1.4"/>
<rect x="21.4" y="5.8" width="8.6" height="19" rx="1.6" fill="#3a3a38"/>
<rect x="21.4" y="5.6" width="8.6" height="5.2" rx="1.4" fill="#b1b1ad"/>
<rect x="21.6" y="19.8" width="8.6" height="5.2" rx="1.4" fill="#b7b7b3"/>
<rect x="179.6" y="2.4" width="14" height="25.2" fill="none" stroke="#29292b" stroke-width="1.4"/>
<rect x="182.4" y="5.6" width="8.6" height="19" rx="1.6" fill="#3a3a38"/>
<rect x="182.4" y="5.4" width="8.6" height="5.2" rx="1.4" fill="#b1b1ad"/>
<rect x="182.6" y="19.6" width="8.6" height="5.2" rx="1.4" fill="#b7b7b3"/>
<line x1="135.7" y1="0" x2="135.7" y2="32.2" stroke="#b4b4c0" stroke-width="0.8"/>
<ellipse cx="130.6" cy="7.2" rx="4" ry="4.3" fill="#c47d52"/>
<ellipse cx="130.6" cy="7.2" rx="2" ry="2.2" fill="#ba7048"/>
<ellipse cx="140.8" cy="7.2" rx="4" ry="4.3" fill="#c47d52"/>
<ellipse cx="140.8" cy="7.2" rx="2" ry="2.2" fill="#ba7048"/>
<ellipse cx="130.6" cy="20.7" rx="4" ry="4.3" fill="#c47d52"/>
<ellipse cx="130.6" cy="20.7" rx="2" ry="2.2" fill="#ba7048"/>
<ellipse cx="140.8" cy="20.7" rx="4" ry="4.3" fill="#c47d52"/>
<ellipse cx="140.8" cy="20.7" rx="2" ry="2.2" fill="#ba7048"/>
<path d="M147.6,2.6 v5" stroke="#29292b" stroke-width="1.3"/>
<path d="M118.8,3.4 v5" stroke="#29292b" stroke-width="1.3"/>
<path d="M149.2,18.4 v5.6 M146.4,21.2 h5.4" stroke="#29292b" stroke-width="1.2"/>
<path d="M122.8,22.9 v5.6 M120.1,25.7 h5.4" stroke="#29292b" stroke-width="1.2"/>
<line x1="294.7" y1="0" x2="294.7" y2="32.2" stroke="#b4b4c0" stroke-width="0.8"/>
<ellipse cx="290.0" cy="7.2" rx="4" ry="4.3" fill="#c47d52"/>
<ellipse cx="290.0" cy="7.2" rx="2" ry="2.2" fill="#ba7048"/>
<ellipse cx="299.4" cy="7.2" rx="4" ry="4.3" fill="#c47d52"/>
<ellipse cx="299.4" cy="7.2" rx="2" ry="2.2" fill="#ba7048"/>
<ellipse cx="290.0" cy="20.7" rx="4" ry="4.3" fill="#c47d52"/>
<ellipse cx="290.0" cy="20.7" rx="2" ry="2.2" fill="#ba7048"/>
<ellipse cx="299.4" cy="20.7" rx="4" ry="4.3" fill="#c47d52"/>
<ellipse cx="299.4" cy="20.7" rx="2" ry="2.2" fill="#ba7048"/>
<path d="M306.2,2.6 v5" stroke="#29292b" stroke-width="1.3"/>
<path d="M278.2,3.4 v5" stroke="#29292b" stroke-width="1.3"/>
<path d="M307.8,18.4 v5.6 M305.1,21.2 h5.4" stroke="#29292b" stroke-width="1.2"/>
<path d="M282.2,22.9 v5.6 M279.5,25.7 h5.4" stroke="#29292b" stroke-width="1.2"/>
<path d="M38.4,13.5 v6 M41.6,13.5 v6 M38.4,13.5 h3.2 M38.4,16.7 h3.2 M38.4,19.5 h3.2" stroke="#29292b" stroke-width="1.1" fill="none"/>
<path d="M92.9,13.5 v6 M96.1,13.5 v6 M92.9,13.5 h3.2 M92.9,16.7 h3.2 M92.9,19.5 h3.2" stroke="#29292b" stroke-width="1.1" fill="none"/>
<path d="M145.9,11.0 v6 M149.1,11.0 v6 M145.9,11.0 h3.2 M145.9,14.2 h3.2 M145.9,17.0 h3.2" stroke="#29292b" stroke-width="1.1" fill="none"/>
<path d="M171.9,12.0 v6 M175.1,12.0 v6 M171.9,12.0 h3.2 M171.9,15.2 h3.2 M171.9,18.0 h3.2" stroke="#29292b" stroke-width="1.1" fill="none"/>
<path d="M197.9,12.0 v6 M201.1,12.0 v6 M197.9,12.0 h3.2 M197.9,15.2 h3.2 M197.9,18.0 h3.2" stroke="#29292b" stroke-width="1.1" fill="none"/>
<rect x="205" y="0" width="90" height="33" fill="url(#fade)"/>
<path d="M250,22.5 l3.4,4.4 M253.4,22.5 l-3.4,4.4 M256.5,22.5 l1.8,4.4 l1.8,-4.4" stroke="#29292b" stroke-width="1" fill="none"/>
</g>
</g></g>
</g><!--/strips-->

</svg>
</body>
</html>
